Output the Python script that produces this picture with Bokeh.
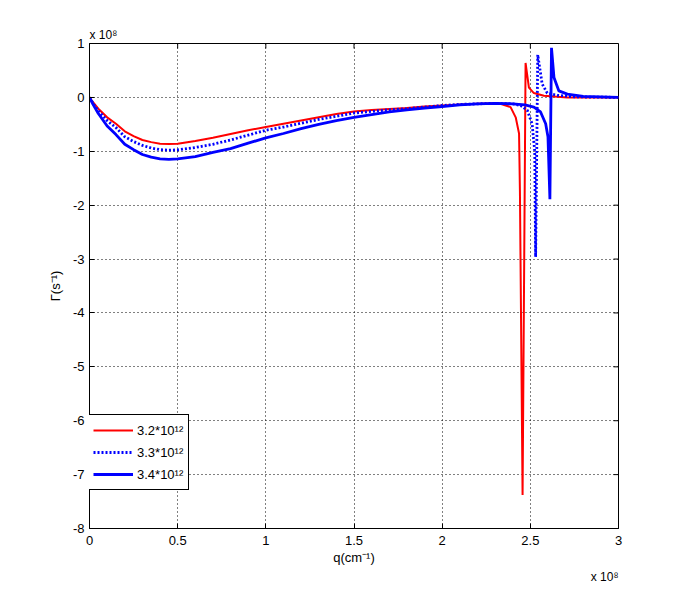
from bokeh.plotting import figure
from bokeh.models import Range1d, FixedTicker, Title, Legend, LegendItem
from bokeh.embed import file_html
from bokeh.resources import INLINE

# q in units of 1e8 cm^-1, Gamma in units of 1e8 s^-1
q_32 = [0, 0.02, 0.05, 0.1, 0.15, 0.2, 0.25, 0.3, 0.35, 0.4, 0.45, 0.5, 0.6, 0.7, 0.8, 0.9,
        1.0, 1.1, 1.2, 1.3, 1.4, 1.5, 1.6, 1.7, 1.8, 1.9, 2.0, 2.1, 2.2, 2.3,
        2.33, 2.388, 2.417, 2.436, 2.441, 2.456, 2.473, 2.492, 2.52, 2.577, 2.71, 3.0]
g_32 = [0, -0.09, -0.21, -0.37, -0.49, -0.63, -0.72, -0.79, -0.83, -0.86, -0.865, -0.86, -0.81, -0.75, -0.68, -0.61,
        -0.55, -0.49, -0.43, -0.37, -0.31, -0.26, -0.235, -0.215, -0.195, -0.17, -0.15, -0.13, -0.12, -0.11,
        -0.12, -0.18, -0.37, -0.67, -1.75, -7.38, 0.64, 0.18, 0.08, 0.03, 0.0, 0.0]

q_33 = [0, 0.02, 0.05, 0.1, 0.15, 0.2, 0.25, 0.3, 0.35, 0.4, 0.45, 0.5, 0.6, 0.7, 0.8, 0.9,
        1.0, 1.1, 1.2, 1.3, 1.4, 1.5, 1.6, 1.7, 1.8, 1.9, 2.0, 2.1, 2.2, 2.3,
        2.4, 2.445, 2.483, 2.51, 2.525, 2.53, 2.542, 2.567, 2.596, 2.653, 2.75, 3.0]
g_33 = [0, -0.11, -0.25, -0.43, -0.56, -0.73, -0.82, -0.89, -0.94, -0.97, -0.98, -0.975, -0.93, -0.87, -0.79, -0.70,
        -0.61, -0.55, -0.48, -0.41, -0.35, -0.29, -0.26, -0.23, -0.21, -0.18, -0.15, -0.13, -0.12, -0.11,
        -0.12, -0.15, -0.24, -0.49, -1.0, -2.96, 0.79, 0.25, 0.08, 0.04, 0.01, 0.0]

q_34 = [0, 0.02, 0.05, 0.1, 0.15, 0.2, 0.25, 0.3, 0.35, 0.4, 0.45, 0.5, 0.6, 0.7, 0.8, 0.9,
        1.0, 1.1, 1.2, 1.3, 1.4, 1.5, 1.6, 1.7, 1.8, 1.9, 2.0, 2.1, 2.2, 2.3,
        2.4, 2.47, 2.52, 2.558, 2.587, 2.6, 2.611, 2.62, 2.634, 2.662, 2.71, 2.8, 3.0]
g_34 = [0, -0.13, -0.30, -0.53, -0.69, -0.87, -0.97, -1.06, -1.11, -1.14, -1.15, -1.14, -1.10, -1.02, -0.95, -0.85,
        -0.75, -0.67, -0.58, -0.50, -0.43, -0.37, -0.32, -0.27, -0.23, -0.20, -0.17, -0.14, -0.12, -0.11,
        -0.12, -0.14, -0.18, -0.27, -0.49, -0.73, -1.89, 0.92, 0.37, 0.12, 0.06, 0.02, 0.0]

series_labels = ["3.2*10\u00b9\u00b2", "3.3*10\u00b9\u00b2", "3.4*10\u00b9\u00b2"]
x_ticks = [0, 0.5, 1, 1.5, 2, 2.5, 3]
x_tick_labels = ["0", "0.5", "1", "1.5", "2", "2.5", "3"]
y_ticks = [-8, -7, -6, -5, -4, -3, -2, -1, 0, 1]
y_tick_labels = ["-8", "-7", "-6", "-5", "-4", "-3", "-2", "-1", "0", "1"]
x_label = "q(cm\u207b\u00b9)"
y_label = "\u0393(s\u207b\u00b9)"
exp_text = "x 10\u2078"

FONT = "Liberation Sans"
X0, X1, Y0, Y1 = 0, 3, -8, 1
FW, FH = 529, 485
TICK = 5  # px

p = figure(frame_width=FW, frame_height=FH,
           min_border_left=89, min_border_right=60, min_border_top=43, min_border_bottom=56,
           x_range=Range1d(X0, X1), y_range=Range1d(Y0, Y1),
           output_backend="svg", toolbar_location=None,
           x_axis_label=x_label, y_axis_label=y_label)
p.background_fill_color = "white"
p.border_fill_color = "white"
p.outline_line_color = "black"
p.outline_line_alpha = 1
p.outline_line_width = 1

p.xaxis.ticker = FixedTicker(ticks=x_ticks)
p.yaxis.ticker = FixedTicker(ticks=y_ticks)
p.xaxis.major_label_overrides = {t: l for t, l in zip(x_ticks, x_tick_labels)}
p.yaxis.major_label_overrides = {t: l for t, l in zip(y_ticks, y_tick_labels)}

for ax in (p.xaxis[0], p.yaxis[0]):
    ax.axis_line_color = "black"
    ax.major_tick_line_color = "black"
    ax.major_tick_in = TICK
    ax.major_tick_out = 0
    ax.minor_tick_line_color = None
    ax.major_label_text_font = FONT
    ax.major_label_text_font_size = "13px"
    ax.major_label_text_color = "black"
    ax.axis_label_text_font = FONT
    ax.axis_label_text_font_size = "13px"
    ax.axis_label_text_font_style = "normal"
    ax.axis_label_text_color = "black"
p.xaxis.major_label_standoff = 7
p.xaxis.axis_label_standoff = 2
p.yaxis.major_label_standoff = 5
p.yaxis.axis_label_standoff = 7

p.xgrid.ticker = FixedTicker(ticks=x_ticks)
p.ygrid.ticker = FixedTicker(ticks=y_ticks)
for g in (p.xgrid[0], p.ygrid[0]):
    g.grid_line_color = "black"
    g.grid_line_alpha = 1
    g.grid_line_dash = "1 3"
    g.grid_line_width = 1

# inward ticks on the right and top edges of the box (MATLAB "box on")
dx = (X1 - X0) * TICK / FW
dy = (Y1 - Y0) * TICK / FH
p.segment(x0=[X1] * len(y_ticks), y0=y_ticks, x1=[X1 - dx] * len(y_ticks), y1=y_ticks,
          line_color="black", line_width=1)
p.segment(x0=x_ticks, y0=[Y1] * len(x_ticks), x1=x_ticks, y1=[Y1 - dy] * len(x_ticks),
          line_color="black", line_width=1)

r1 = p.line(q_32, g_32, line_color="#ff0000", line_width=2)
r2 = p.line(q_33, g_33, line_color="#0000ff", line_width=2.8, line_dash="2 2")
r3 = p.line(q_34, g_34, line_color="#0000ff", line_width=2.8)

legend = Legend(items=[LegendItem(label=series_labels[0], renderers=[r1]),
                       LegendItem(label=series_labels[1], renderers=[r2]),
                       LegendItem(label=series_labels[2], renderers=[r3])],
                location=(-2, 38))
legend.label_text_font = FONT
legend.label_text_font_size = "13px"
legend.label_text_color = "black"
legend.border_line_color = "black"
legend.border_line_alpha = 1
legend.border_line_width = 1
legend.background_fill_color = "white"
legend.background_fill_alpha = 1
legend.padding = 5
legend.spacing = 2
legend.margin = 0
legend.glyph_width = 40
legend.glyph_height = 20
legend.label_height = 20
legend.label_standoff = 4
p.add_layout(legend)

# axis exponent labels
top_exp = Title(text=exp_text, align="left", text_font=FONT, text_font_size="12px",
                text_font_style="normal", text_color="black", standoff=3, offset=0)
bot_exp = Title(text=exp_text, align="right", text_font=FONT, text_font_size="12px",
                text_font_style="normal", text_color="black", standoff=0, offset=0)
p.add_layout(top_exp, "above")
p.add_layout(bot_exp, "below")

open("out.html", "w").write(file_html(p, INLINE))
